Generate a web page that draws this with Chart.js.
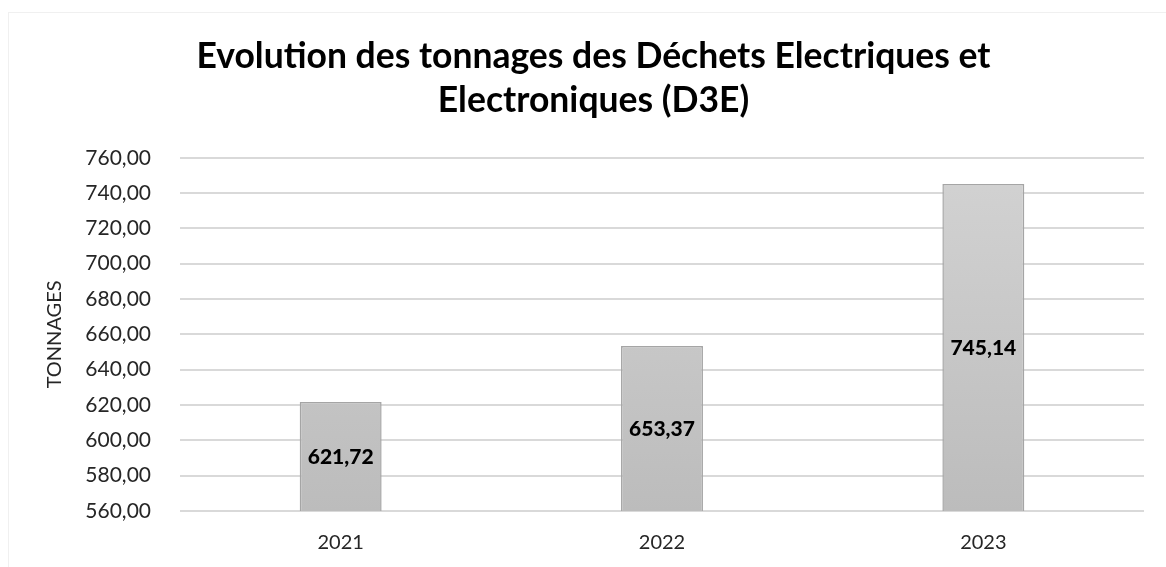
<!DOCTYPE html>
<html>
<head>
<meta charset="utf-8">
<script src="https://cdn.jsdelivr.net/npm/chart.js@4"></script>
<style>
    html, body { margin: 0; padding: 0; background: #fff; }
    #wrap { position: absolute; left: 0; top: 0; width: 1166px; height: 567px; }
    #frame { position: absolute; left: 8px; top: 12px; right: 0; bottom: 0; border-left: 1px solid #f0f0f0; border-top: 1px solid #f0f0f0; }
    canvas { position: absolute; left: 0; top: 0; }
</style>
</head>
<body>
<div id="wrap">
    <div id="frame"></div>
    <canvas id="wasteChart" width="1166" height="567"></canvas>
</div>
<script>
// Data
const years = ["2021", "2022", "2023"];
const tonnages = [621.72, 653.37, 745.14];
const titleLines = ["Evolution des tonnages des Déchets Electriques et", "Electroniques (D3E)"];
const yTitle = "TONNAGES";

const fmt = v => v.toFixed(2).replace(".", ",");

// Bold value label in the middle of each bar
const barLabels = {
    id: "barLabels",
    afterDraw(chart) {
        const c = chart.ctx;
        const meta = chart.getDatasetMeta(0);
        const yScale = chart.scales.y;
        c.save();
        c.font = "900 21px Lato";
        c.fillStyle = "#000";
        c.textAlign = "center";
        c.textBaseline = "middle";
        meta.data.forEach((bar, i) => {
            const top = yScale.getPixelForValue(tonnages[i]);
            const bottom = yScale.getPixelForValue(yScale.min);
            c.fillText(fmt(tonnages[i]), bar.x, (top + bottom) / 2 + 1);
        });
        c.restore();
    }
};

const ctx = document.getElementById("wasteChart").getContext("2d");
new Chart(ctx, {
    type: "bar",
    data: {
        labels: years,
        datasets: [{
            data: tonnages,
            backgroundColor: context => {
                const area = context.chart.chartArea;
                if (!area) return "#c8c8c8";
                const g = context.chart.ctx.createLinearGradient(0, area.top, 0, area.bottom);
                g.addColorStop(0, "#d3d3d3");
                g.addColorStop(1, "#bcbcbc");
                return g;
            },
            borderColor: "#a5a5a5",
            borderWidth: 1.5,
            borderSkipped: false,
            categoryPercentage: 1,
            barPercentage: 0.255
        }]
    },
    options: {
        responsive: false,
        animation: false,
        layout: { padding: { left: 43, right: 22, top: 10, bottom: 13 } },
        plugins: {
            legend: { display: false },
            tooltip: { enabled: false },
            title: {
                display: true,
                text: titleLines,
                color: "#000",
                font: { family: "Lato", size: 35.5, weight: "bold", lineHeight: 1.25 },
                padding: { top: 24, bottom: 35 }
            }
        },
        scales: {
            x: {
                afterFit: s => { s.height = 43; },
                grid: { display: false },
                border: { display: false },
                ticks: { color: "#262626", font: { family: "Lato", size: 20 }, padding: 12 }
            },
            y: {
                min: 560,
                max: 760,
                afterFit: s => { s.width = 137; },
                ticks: {
                    stepSize: 20,
                    color: "#262626",
                    font: { family: "Lato", size: 21 },
                    padding: 29,
                    callback: v => fmt(v)
                },
                grid: { color: "#d9d9d9", lineWidth: 2, drawTicks: false },
                border: { display: false },
                title: {
                    display: true,
                    text: yTitle,
                    color: "#262626",
                    font: { family: "Lato", size: 20 },
                    padding: 0
                }
            }
        }
    },
    plugins: [barLabels]
});
</script>
</body>
</html>
